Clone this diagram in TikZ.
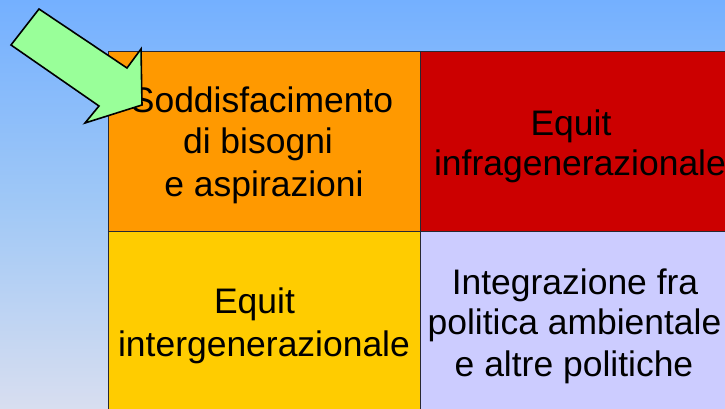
\documentclass[tikz,border=0pt]{standalone}
\usepackage{fontspec}
\setmainfont{Liberation Sans}
\definecolor{bgtop}{RGB}{116,176,255}
\definecolor{bgmid}{RGB}{160,200,246}
\definecolor{bgbot}{RGB}{216,222,240}
\definecolor{corange}{RGB}{255,153,0}
\definecolor{cred}{RGB}{204,0,0}
\definecolor{cyellow}{RGB}{255,204,0}
\definecolor{clav}{RGB}{204,204,255}
\definecolor{cgreen}{RGB}{153,255,153}
\definecolor{cborder}{RGB}{40,40,50}
\tikzset{
  cell/.style={draw=cborder, line width=0.75pt, anchor=north west, inner sep=0pt, outer sep=0pt},
  txt/.style={anchor=base, inner sep=0pt, font=\fontsize{26.6pt}{31pt}\selectfont, text=black},
}
\begin{document}
\begin{tikzpicture}[x=0.75pt, y=-0.75pt]
\useasboundingbox (0,0) rectangle (725,409);
\clip (0,0) rectangle (725,409);
\shade[top color=bgtop, bottom color=bgbot, middle color=bgmid] (0,0) rectangle (725,409);
% cells
\node[cell, fill=corange, minimum width=312*0.75pt, minimum height=180*0.75pt] (tl) at (108,52) {};
\node[cell, fill=cred, minimum width=320*0.75pt, minimum height=180*0.75pt] (tr) at (420,52) {};
\node[cell, fill=cyellow, minimum width=312*0.75pt, minimum height=190*0.75pt] (bl) at (108,232) {};
\node[cell, fill=clav, minimum width=320*0.75pt, minimum height=190*0.75pt] (br) at (420,232) {};
% texts
\node[txt] (t1a) at (262,113) {Soddisfacimento};
\node[txt] (t1b) at (258,154) {di bisogni};
\node[txt] (t1c) at (264,196.5) {e aspirazioni};
\node[txt] (t2a) at (571,136) {Equit};
\node[txt] (t2b) at (580,176) {infragenerazionale};
\node[txt] (t3a) at (254.5,314) {Equit};
\node[txt] (t3b) at (264,357) {intergenerazionale};
\node[txt] (t4a) at (575,294.3) {Integrazione fra};
\node[txt] (t4b) at (574.5,334.3) {politica ambientale};
\node[txt] (t4c) at (574,376.7) {e altre politiche};
% arrow
\draw[fill=cgreen, draw=black, line width=1.2pt, line join=miter]
  (39,9) -- (127,68) -- (141,49) -- (142,105) -- (85,123) -- (99,106) -- (11,45) -- cycle;
\end{tikzpicture}
\end{document}
